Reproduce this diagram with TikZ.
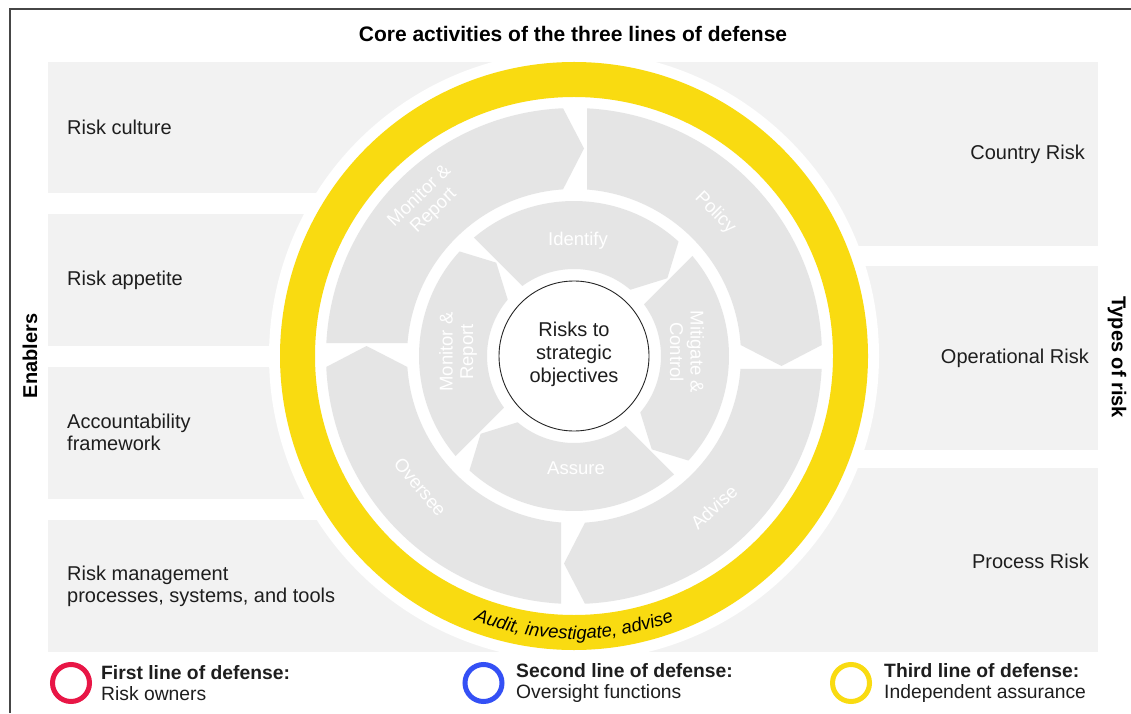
\documentclass[tikz,border=0pt]{standalone}
\usepackage{fontspec}
\setmainfont{Liberation Sans}
\usetikzlibrary{calc,decorations.text}
\definecolor{panel}{RGB}{242,242,242}
\definecolor{seg}{RGB}{229,229,229}
\definecolor{ylw}{RGB}{249,219,17}
\definecolor{redl}{RGB}{232,22,70}
\definecolor{bluel}{RGB}{52,80,245}
\definecolor{txt}{RGB}{30,30,30}
\definecolor{framec}{RGB}{70,70,70}
% #1 rotation, #2 inner radius, #3 outer radius, #4 start offset, #5 end offset, #6 tip offset
\newcommand\ringseg[6]{%
  \begin{scope}[shift={(574,357)}, rotate=#1]
    \pgfmathsetmacro\segaA{180-asin(#4/#3)}
    \pgfmathsetmacro\segaB{90+asin(#5/#3)}
    \pgfmathsetmacro\segaC{90+asin(#5/#2)}
    \pgfmathsetmacro\segaD{180-asin(#4/#2)}
    \pgfmathsetmacro\segRm{(#2+#3)/2}
    \fill[seg] (\segaD:#2) -- (\segaA:#3)
      arc[start angle=\segaA, end angle=\segaB, radius=#3]
      -- (#6,\segRm) -- (\segaC:#2)
      arc[start angle=\segaC, end angle=\segaD, radius=#2] -- cycle;
  \end{scope}}
\begin{document}
\begin{tikzpicture}[x=1pt,y=1pt,
  panelbox/.style={fill=panel, draw=none},
  lbl/.style={font=\fontsize{20}{22}\selectfont, text=txt, inner sep=0pt, align=left},
  seglbl/.style={font=\fontsize{18.5}{20.5}\selectfont, text=white, align=center, inner sep=0pt},
  hdr/.style={font=\fontsize{21}{24}\selectfont\bfseries, text=black, inner sep=0pt},
  sidehdr/.style={font=\fontsize{20}{22}\selectfont\bfseries, text=black, inner sep=0pt},
  legring/.style={draw, line width=5pt, circle, minimum size=37pt, inner sep=0pt},
  legtxt/.style={font=\fontsize{19.3}{21.5}\selectfont, align=left, anchor=west, inner sep=0pt, text=txt}]
\useasboundingbox (0,0) rectangle (1131,713);
\fill[white] (0,0) rectangle (1131,713);
% frame
\draw[framec, line width=1.8pt] (10,0) -- (10,704) -- (1131,704);
% left panels
\fill[panelbox] (48,651) rectangle (574,520);
\fill[panelbox] (48,499) rectangle (574,367);
\fill[panelbox] (48,346) rectangle (574,214);
\fill[panelbox] (48,193) rectangle (574,61);
% right panels
\fill[panelbox] (574,651) rectangle (1098,467);
\fill[panelbox] (574,447) rectangle (1098,263);
\fill[panelbox] (574,245) rectangle (1098,61);
% white disk and yellow ring
\fill[white] (574,357) circle[radius=305];
\draw[ylw, line width=35pt] (574,357) circle[radius=276.5];
% outer ring segments
\ringseg{0}{167}{248}{13}{11}{10}
\ringseg{-90}{167}{248}{13}{11}{10}
\ringseg{-180}{167}{248}{13}{11}{10}
\ringseg{90}{167}{248}{13}{11}{10}
% inner ring segments
\ringseg{-45}{87}{155}{13}{7}{11}
\ringseg{-135}{87}{155}{13}{7}{11}
\ringseg{-225}{87}{155}{13}{7}{11}
\ringseg{45}{87}{155}{13}{7}{11}
% center
\node[circle, draw=black!85, line width=0.9pt, fill=white, minimum size=150pt, inner sep=0pt] (core) at (574,357) {};
\node[lbl, align=center, font=\fontsize{20}{23}\selectfont] (coretxt) at (574,359) {Risks to\\strategic\\objectives};
% segment labels
\node[seglbl, rotate=44] (smon) at ($(574,357)+(134:212)$) {Monitor \&\\Report};
\node[seglbl, rotate=-45] (spol) at ($(574,357)+(45.4:201)$) {Policy};
\node[seglbl, rotate=43] (sadv) at ($(574,357)+(-47.2:206)$) {Advise};
\node[seglbl, rotate=-50] (sove) at ($(574,357)+(220.4:202)$) {Oversee};
\node[seglbl] (iide) at (578,472) {Identify};
\node[seglbl, rotate=-90] (imit) at (687,361) {Mitigate \&\\Control};
\node[seglbl] (iass) at (576,245) {Assure};
\node[seglbl, rotate=90] (imon) at (458,361) {Monitor \&\\Report};
% curved text
\path[decorate, decoration={text along path, text align=center,
  text={|\fontsize{18.5}{18.5}\selectfont\itshape|Audit, investigate, advise}}]
  ($(574,357)+(200:283)$) arc[start angle=200, end angle=340, radius=283];
% headers
\node[hdr] (title) at (573,679) {Core activities of the three lines of defense};
\node[sidehdr, rotate=90] (enab) at (30,357) {Enablers};
\node[sidehdr, rotate=-90] (types) at (1117,356) {Types of risk};
% left labels
\node[lbl, anchor=west] (e1) at (67,586) {Risk culture};
\node[lbl, anchor=west] (e2) at (67,433) {Risk appetite};
\node[lbl, anchor=west] (e3) at (67,281) {Accountability\\framework};
\node[lbl, anchor=west] (e4) at (67,127) {Risk management\\processes, systems, and tools};
% right labels
\node[lbl, anchor=east] (r1) at (1085,559) {Country Risk};
\node[lbl, anchor=east] (r2) at (1089,355) {Operational Risk};
\node[lbl, anchor=east] (r3) at (1089,152) {Process Risk};
% legend
\node[legring, draw=redl] (lg1) at (71,30) {};
\node[legring, draw=bluel] (lg2) at (483.5,30) {};
\node[legring, draw=ylw] (lg3) at (851,30) {};
\node[legtxt] (lt1) at (101,30) {\textbf{First line of defense:}\\Risk owners};
\node[legtxt] (lt2) at (516,30) {\textbf{Second line of defense:}\\Oversight functions};
\node[legtxt] (lt3) at (884,30) {\textbf{Third line of defense:}\\Independent assurance};
\end{tikzpicture}
\end{document}
